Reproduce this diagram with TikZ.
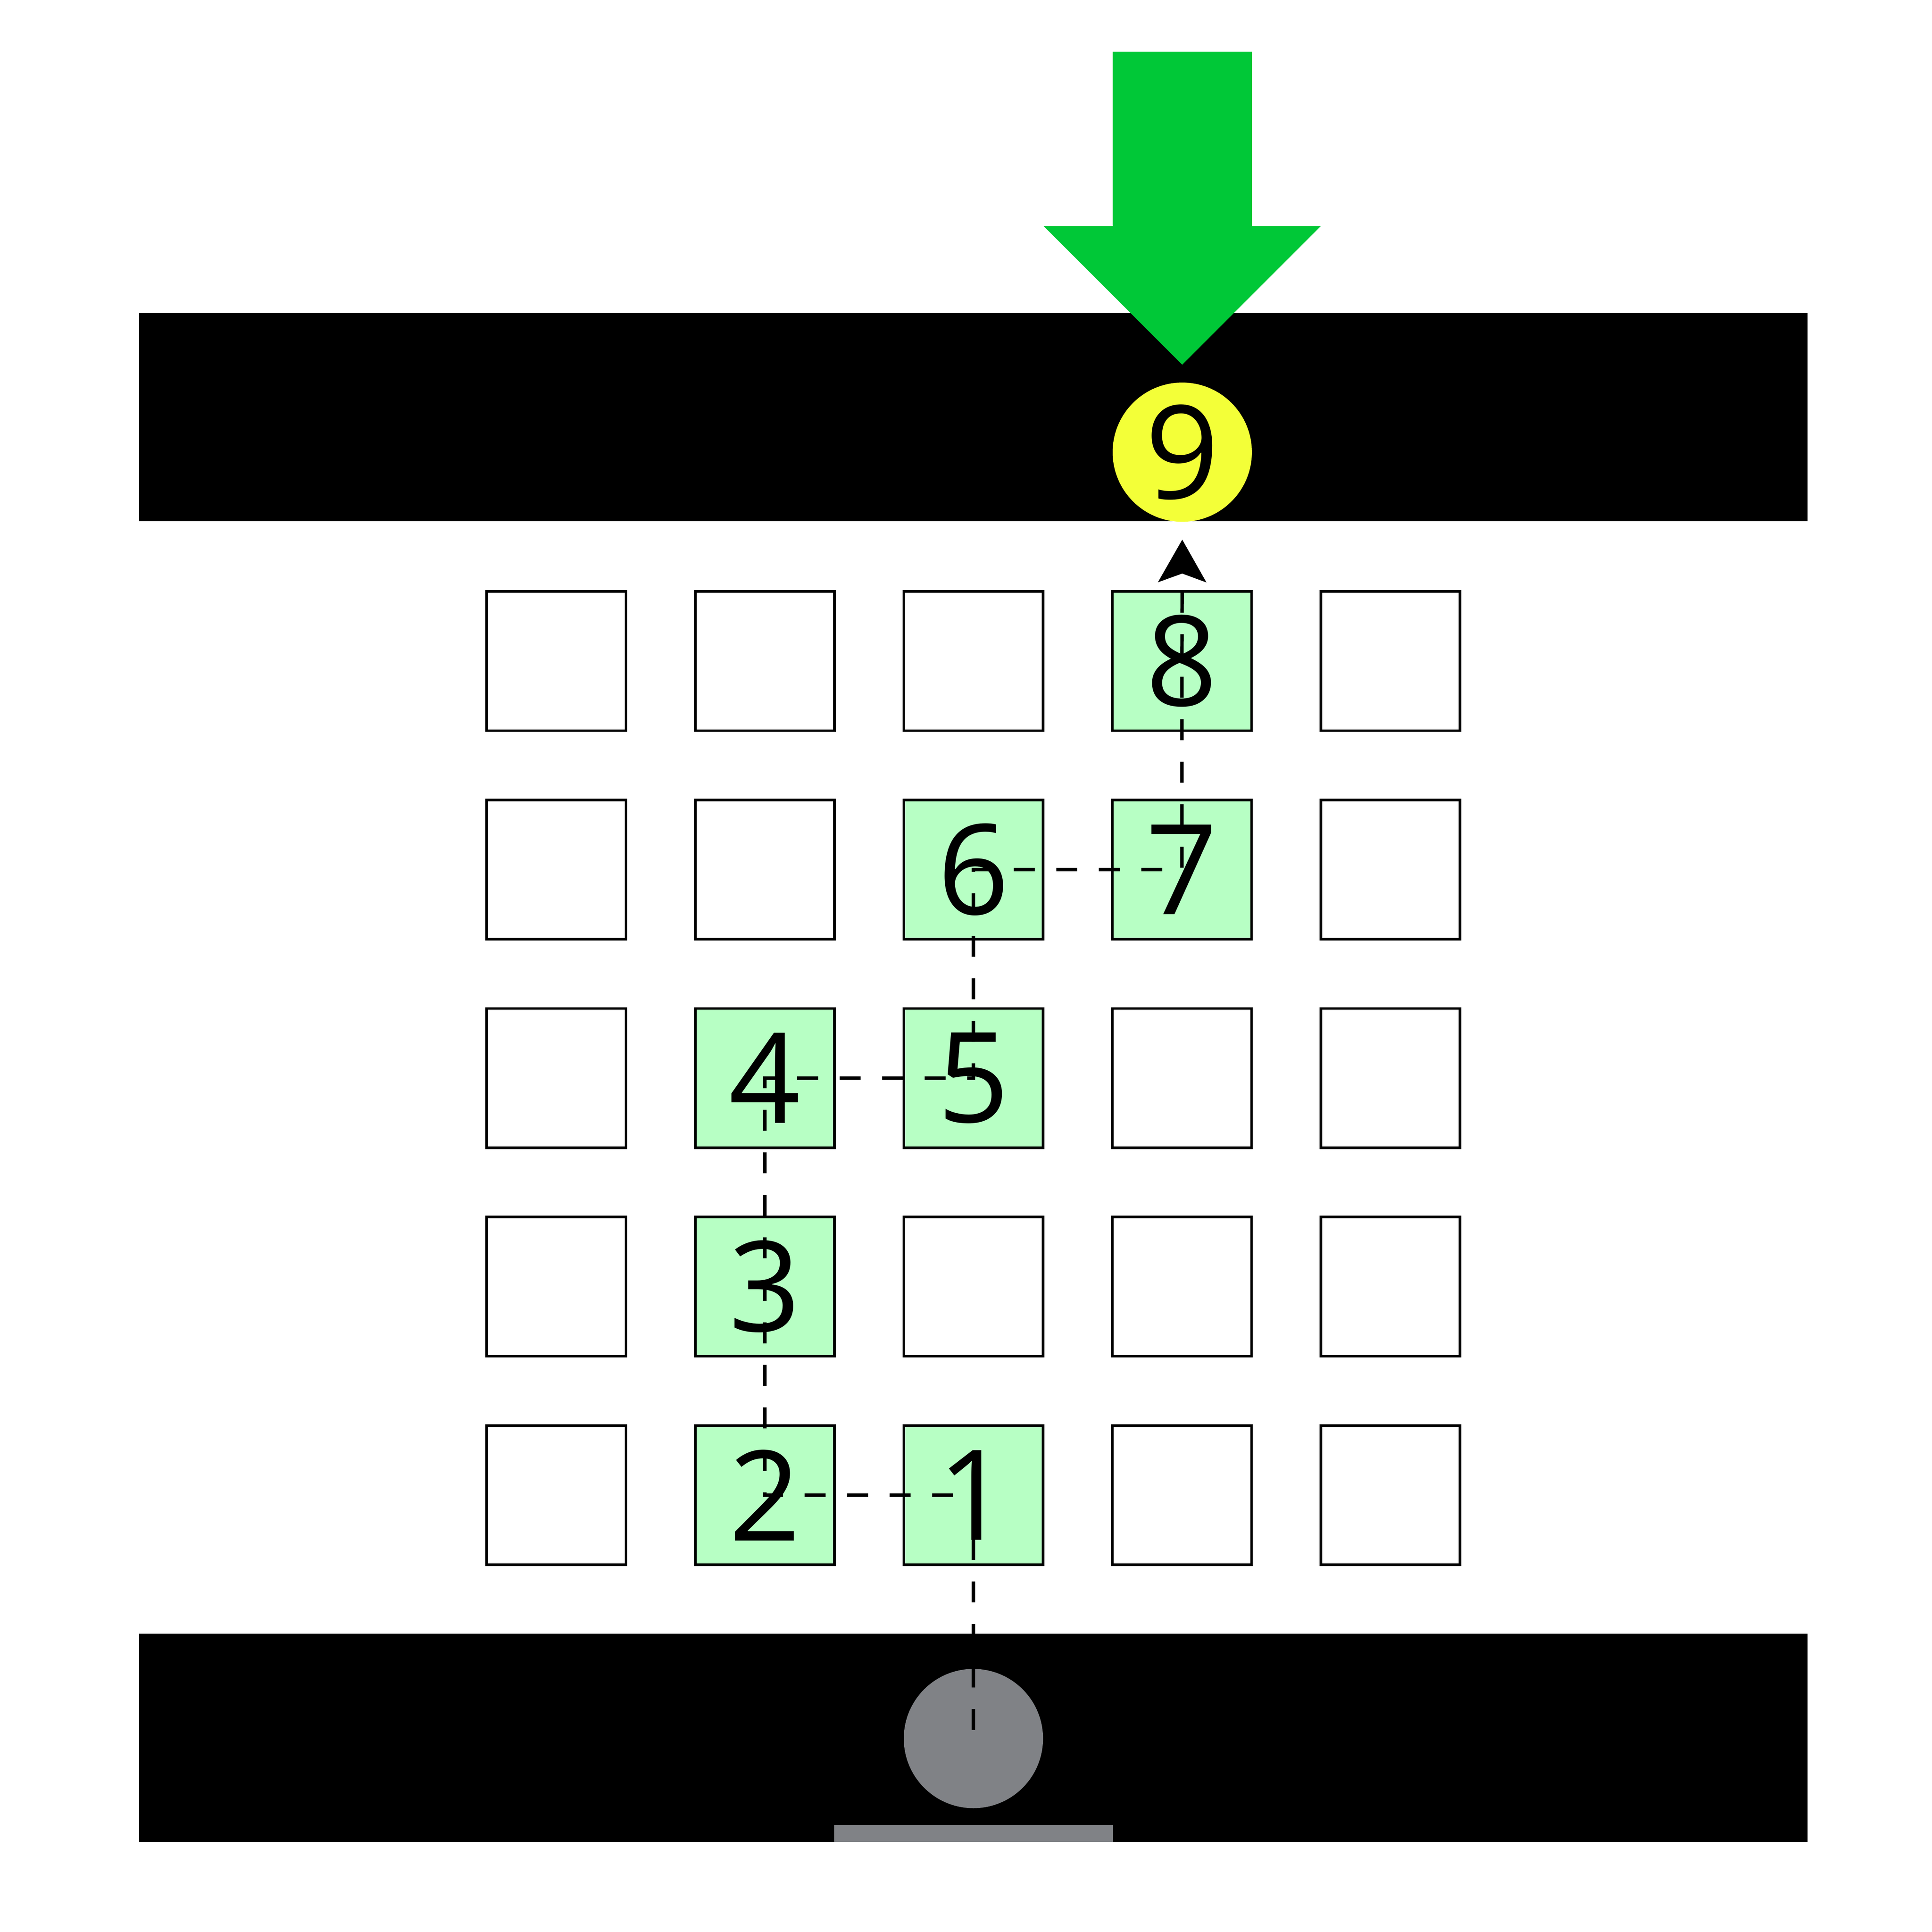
\documentclass[tikz,border=0pt]{standalone}
\usepackage{fontspec}
\setmainfont{Open Sans}
\usetikzlibrary{arrows.meta}
\definecolor{pushgreen}{RGB}{0,200,55}
\definecolor{visited}{RGB}{183,255,196}
\definecolor{goalyellow}{RGB}{243,255,56}
\definecolor{robotgrey}{RGB}{128,130,134}
\begin{document}
\begin{tikzpicture}[
  cell/.style={draw, line width=0.6pt, minimum size=1.13cm, inner sep=0pt},
  stepcell/.style={cell, fill=visited, font=\fontsize{29}{34}\selectfont},
  goal/.style={circle, fill=goalyellow, minimum size=1.13cm, inner sep=0pt, font=\fontsize{30}{34}\selectfont},
  route/.style={line width=0.8pt, dash pattern=on 0.17cm off 0.175cm, dash phase=0.275cm,
    -{Stealth[length=0.345cm, width=0.39cm, inset=0.07cm]}}
]
\useasboundingbox (0,0) rectangle (15.68,15.68);
% walls
\fill (1.13,11.45) rectangle (14.67,13.14);
\fill (1.13,0.73) rectangle (14.67,2.42);
\fill[robotgrey] (6.77,0.73) rectangle (9.03,0.87);
\node[circle, fill=robotgrey, minimum size=1.13cm, inner sep=0pt] (robot) at (7.9,1.57) {};
% push arrow
\fill[pushgreen] (9.03,15.26) -- (10.16,15.26) -- (10.16,13.845) -- (10.72,13.845)
  -- (9.595,12.72) -- (8.47,13.845) -- (9.03,13.845) -- cycle;
\node[goal] (goal) at (9.595,12.01) {9};
% grid
\foreach \i in {1,...,5}
  \foreach \j in {1,...,5}
    \node[cell] (c\i\j) at ({7.9+(\i-3)*1.6925},{10.315-(\j-1)*1.6925}) {};
\node[stepcell] (n1) at (c35) {1};
\node[stepcell] (n2) at (c25) {2};
\node[stepcell] (n3) at (c24) {3};
\node[stepcell] (n4) at (c23) {4};
\node[stepcell] (n5) at (c33) {5};
\node[stepcell] (n6) at (c32) {6};
\node[stepcell] (n7) at (c42) {7};
\node[stepcell] (n8) at (c41) {8};
\coordinate (end) at (9.595,11.30);
\draw[route] (robot.center) -- (n1.center) -- (n2.center) -- (n3.center) -- (n4.center)
  -- (n5.center) -- (n6.center) -- (n7.center) -- (n8.center) -- (end);
\end{tikzpicture}
\end{document}
